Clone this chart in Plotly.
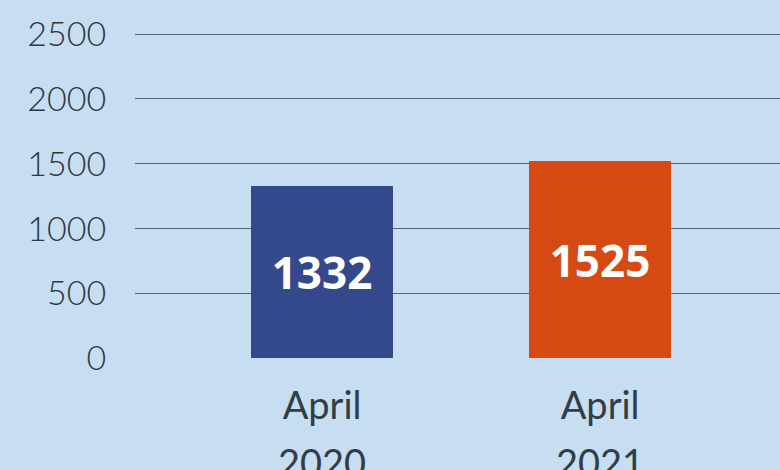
import plotly.graph_objects as go

months = ["April", "April"]
years = ["2020", "2021"]
categories = ["April 2020", "April 2021"]
values = [1332, 1525]
bar_colors = ["#34488c", "#d44a12"]
y_ticks = [0, 500, 1000, 1500, 2000, 2500]

fig = go.Figure()
fig.add_trace(go.Bar(
    x=categories,
    y=values,
    marker=dict(color=bar_colors, line=dict(width=0)),
    width=0.51,
    text=[str(v) for v in values],
    textposition="inside",
    insidetextanchor="middle",
    textfont=dict(family="Open Sans", size=44, color="white", weight="bold"),
    hoverinfo="skip",
))

for c, yr in zip(categories, years):
    fig.add_annotation(x=c, y=-0.24, xref="x", yref="paper", text=yr,
                       showarrow=False, yanchor="top",
                       font=dict(family="Lato", size=38, color="#333d45"))

fig.update_layout(
    width=780, height=470,
    margin=dict(l=135, r=0, t=33, b=111),
    paper_bgcolor="#c6ddf2",
    plot_bgcolor="#c6ddf2",
    showlegend=False,
    bargap=0,
)
fig.update_xaxes(
    type="category",
    range=[-0.673, 1.647],
    tickvals=categories,
    ticktext=months,
    tickfont=dict(family="Lato", size=38, color="#333d45"),
    showgrid=False, showline=False, zeroline=False,
    ticks="outside", ticklen=13, tickcolor="rgba(0,0,0,0)",
)
fig.update_yaxes(
    range=[-5, 2508],
    tickvals=y_ticks,
    tickfont=dict(family="Lato", size=34, color="#2e3842", weight=300),
    showgrid=True, gridcolor="#56667a", gridwidth=1.3,
    zeroline=False,
    showline=False,
    ticks="outside", ticklen=21, tickcolor="rgba(0,0,0,0)",
)

fig.write_html("out.html", config={"displayModeBar": False},
               post_script="document.body.style.margin='0';document.body.style.padding='0';")
